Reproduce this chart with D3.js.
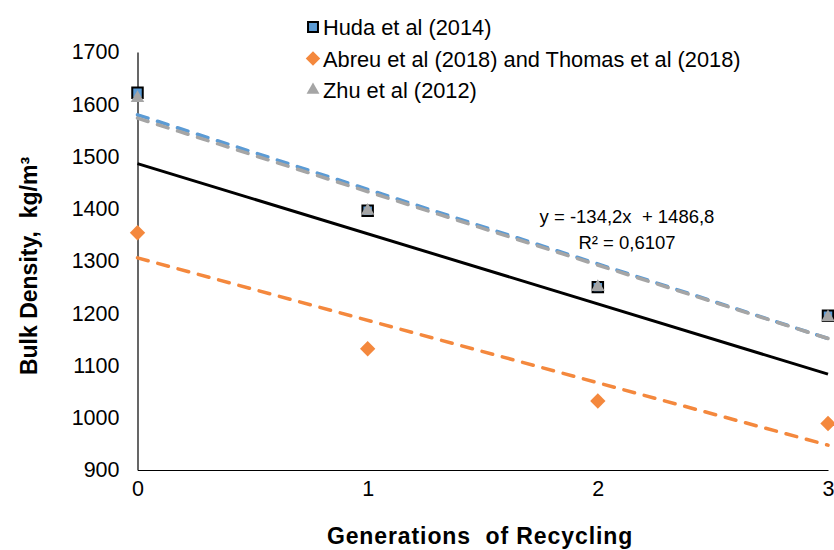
<!DOCTYPE html>
<html>
<head>
<meta charset="utf-8">
<script src="https://cdn.jsdelivr.net/npm/d3@7"></script>
<style>
    body { margin: 0; background: #fff; }
    svg { display: block; font-family: "Liberation Sans", Arial, sans-serif; }
    text { white-space: pre; }
</style>
</head>
<body>
<svg id="chart"></svg>
<script>
// values
const generations = [0, 1, 2, 3];
const hudaValues = [1622, 1396, 1250, 1195];
const abreuValues = [1354, 1132, 1032, 989];
const zhuValues = [1612, 1396, 1250, 1192];
const yTickValues = [900, 1000, 1100, 1200, 1300, 1400, 1500, 1600, 1700];
const seriesNames = ['Huda et al (2014)', 'Abreu et al (2018) and Thomas et al (2018)', 'Zhu et al (2012)'];
const equationLines = ['y = -134,2x  + 1486,8', 'R² = 0,6107'];

const width = 834;
const height = 550;
const colors = { huda: '#5b9bd5', abreu: '#f4883d', zhu: '#a5a5a5' };

const svg = d3.select('#chart')
    .attr('width', width)
    .attr('height', height);

const x = d3.scaleLinear().domain([0, 3]).range([137.5, 828]);
const y = d3.scaleLinear().domain([900, 1700]).range([470, 52]);

// least squares fit, like Excel's linear trendline
const fit = (xs, ys) => {
    const mx = d3.mean(xs);
    const my = d3.mean(ys);
    const sxy = d3.sum(xs, (v, i) => (v - mx) * (ys[i] - my));
    const sxx = d3.sum(xs, (v) => (v - mx) * (v - mx));
    const slope = sxy / sxx;
    return { slope, intercept: my - slope * mx };
};

const series = [
    { key: 'huda', values: hudaValues, symbol: d3.symbolSquare, size: 110 },
    { key: 'abreu', values: abreuValues, symbol: d3.symbolDiamond2, size: 150 },
    { key: 'zhu', values: zhuValues, symbol: d3.symbolTriangle, size: 80 },
];

// axes
const yAxis = d3.axisLeft(y).tickValues(yTickValues).tickFormat(d3.format('d'))
    .tickSize(0).tickPadding(18);
const xAxis = d3.axisBottom(x).tickValues(generations).tickFormat(d3.format('d'))
    .tickSize(0).tickPadding(11);

const gy = svg.append('g').attr('transform', `translate(${x(0)},0)`).call(yAxis);
const gx = svg.append('g').attr('transform', `translate(0,${y(900)})`).call(xAxis);
[gx, gy].forEach((g) => {
    g.select('.domain').attr('stroke', '#000').attr('stroke-width', 1.2);
    g.selectAll('text').attr('font-size', 21.5).attr('fill', '#000')
        .attr('font-family', '"Liberation Sans", Arial, sans-serif');
});

// trendlines per series
const line = d3.line().x((d) => x(d[0])).y((d) => y(d[1]));
const ends = d3.extent(generations);
series.forEach((s) => {
    const f = fit(generations, s.values);
    svg.append('path')
        .attr('d', line(ends.map((g) => [g, f.intercept + f.slope * g])))
        .attr('fill', 'none')
        .attr('stroke', colors[s.key])
        .attr('stroke-width', 3.5)
        .attr('stroke-dasharray', '11,10')
        .attr('stroke-linecap', 'round');
});

// pooled trendline over all points
const pooledX = series.flatMap(() => generations);
const pooledY = series.flatMap((s) => s.values);
const pooled = fit(pooledX, pooledY);
svg.append('path')
    .attr('d', line(ends.map((g) => [g, pooled.intercept + pooled.slope * g])))
    .attr('fill', 'none')
    .attr('stroke', '#000')
    .attr('stroke-width', 3);

// markers
series.forEach((s) => {
    svg.append('g').selectAll('path')
        .data(s.values)
        .join('path')
        .attr('transform', (d, i) => `translate(${x(generations[i])},${y(d)})`)
        .attr('d', d3.symbol(s.symbol, s.size))
        .attr('fill', colors[s.key])
        .attr('stroke', s.key === 'huda' ? '#000' : 'none')
        .attr('stroke-width', 2);
});

// equation
const eq = svg.append('text')
    .attr('font-size', 18.5)
    .attr('text-anchor', 'middle')
    .attr('fill', '#000');
equationLines.forEach((t, i) => {
    eq.append('tspan').attr('x', 627).attr('y', 223 + i * 26).text(t);
});

// legend
const legend = svg.append('g').attr('transform', 'translate(313,27)');
series.forEach((s, i) => {
    const row = legend.append('g').attr('transform', `translate(0,${i * 31.5})`);
    row.append('path')
        .attr('d', d3.symbol(s.symbol, s.size * 0.9))
        .attr('fill', colors[s.key])
        .attr('stroke', s.key === 'huda' ? '#000' : 'none')
        .attr('stroke-width', 2);
    row.append('text')
        .attr('x', 10)
        .attr('y', 8)
        .attr('font-size', 21.8)
        .attr('fill', '#000')
        .text(seriesNames[i]);
});

// axis titles
svg.append('text')
    .attr('x', 480)
    .attr('y', 544)
    .attr('text-anchor', 'middle')
    .attr('font-size', 23)
    .attr('letter-spacing', 0.9)
    .attr('font-weight', 'bold')
    .text('Generations  of Recycling');

svg.append('text')
    .attr('transform', 'translate(37,266) rotate(-90)')
    .attr('text-anchor', 'middle')
    .attr('font-size', 23)
    .attr('font-weight', 'bold')
    .text('Bulk Density,  kg/m³');
</script>
</body>
</html>
